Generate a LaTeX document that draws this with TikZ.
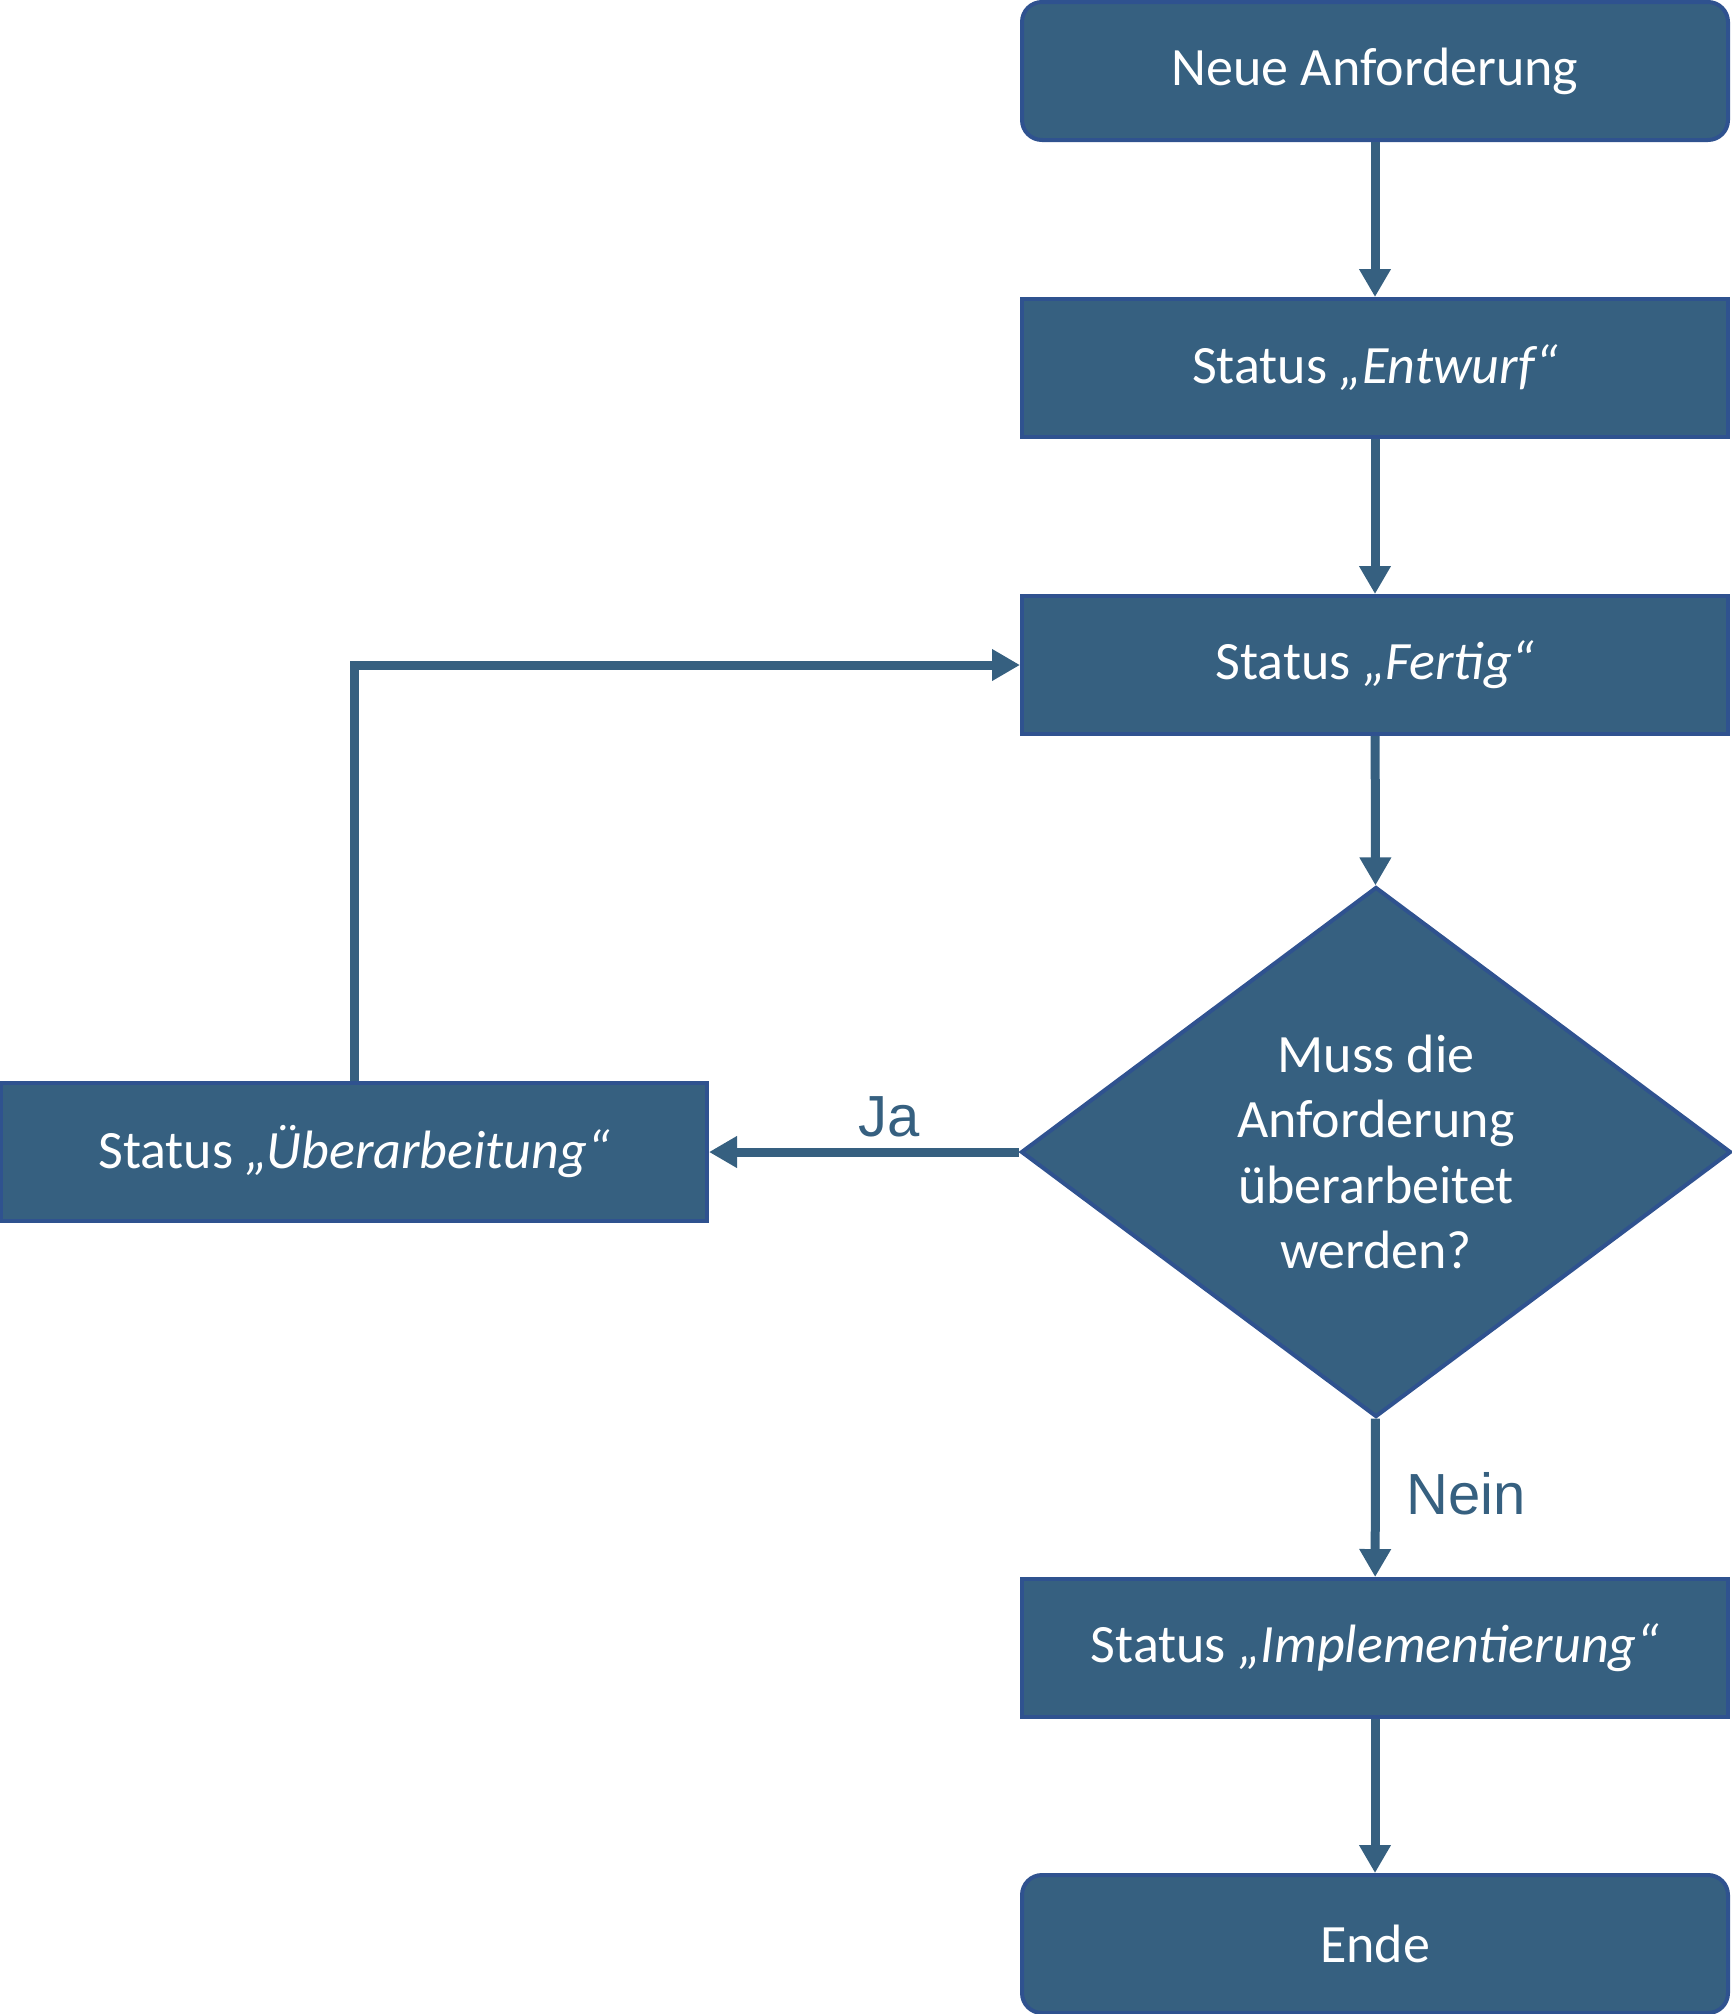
\documentclass[tikz,border=0pt]{standalone}
\usepackage{fontspec}
\setmainfont{Carlito}
\newfontfamily\labelfont{Liberation Sans}
\usepackage{tikz}
\usetikzlibrary{arrows.meta,shapes.geometric}
\definecolor{boxfill}{RGB}{54,96,128}
\definecolor{boxline}{RGB}{47,82,143}

\begin{document}
\begin{tikzpicture}[x=0.5pt,y=-0.5pt]
  \tikzstyle{stepbox}=[rectangle,draw=boxline,fill=boxfill,line width=2pt,
    minimum width=353pt,minimum height=69pt,text=white,
    font=\fontsize{27}{33}\selectfont]
  \tikzstyle{endbox}=[stepbox,rounded corners=10pt]
  \tikzstyle{decide}=[diamond,draw=boxline,fill=boxfill,line width=2pt,
    minimum width=355pt,minimum height=265pt,inner sep=0pt,text=white,
    align=center,font=\fontsize{27}{32.75}\selectfont]
  \tikzstyle{flow}=[draw=boxfill,line width=4.5pt,
    -{Triangle[length=14pt,width=15pt]}]
  \tikzstyle{answer}=[text=boxfill,font=\labelfont\fontsize{29}{34}\selectfont]
  \useasboundingbox (0,0) rectangle (1732,2014);
  \node(neu)[endbox] at (1375,71) {Neue Anforderung};
  \node(entwurf)[stepbox] at (1375,368) {Status \textit{„Entwurf“}};
  \node(fertig)[stepbox] at (1375,665) {Status \textit{„Fertig“}};
  \node(frage)[decide] at (1376,1152) {Muss die\\Anforderung\\überarbeitet\\werden?};
  \node(ueber)[stepbox] at (354,1152) {Status \textit{„Überarbeitung“}};
  \node(impl)[stepbox] at (1375,1648) {Status \textit{„Implementierung“}};
  \node(ende)[endbox] at (1375,1944) {Ende};
  \draw[flow] (neu) -- (entwurf);
  \draw[flow] (entwurf) -- (fertig);
  \draw[flow] (fertig) -- (frage);
  \draw[flow] (frage) -- node[answer,above,pos=0.42,yshift=2pt]{Ja} (ueber);
  \draw[flow] (frage) -- node[answer,right,pos=0.5,xshift=10pt,yshift=2pt]{Nein} (impl);
  \draw[flow] (ueber.north) |- (fertig.west);
  \draw[flow] (impl) -- (ende);
\end{tikzpicture}
\end{document}
